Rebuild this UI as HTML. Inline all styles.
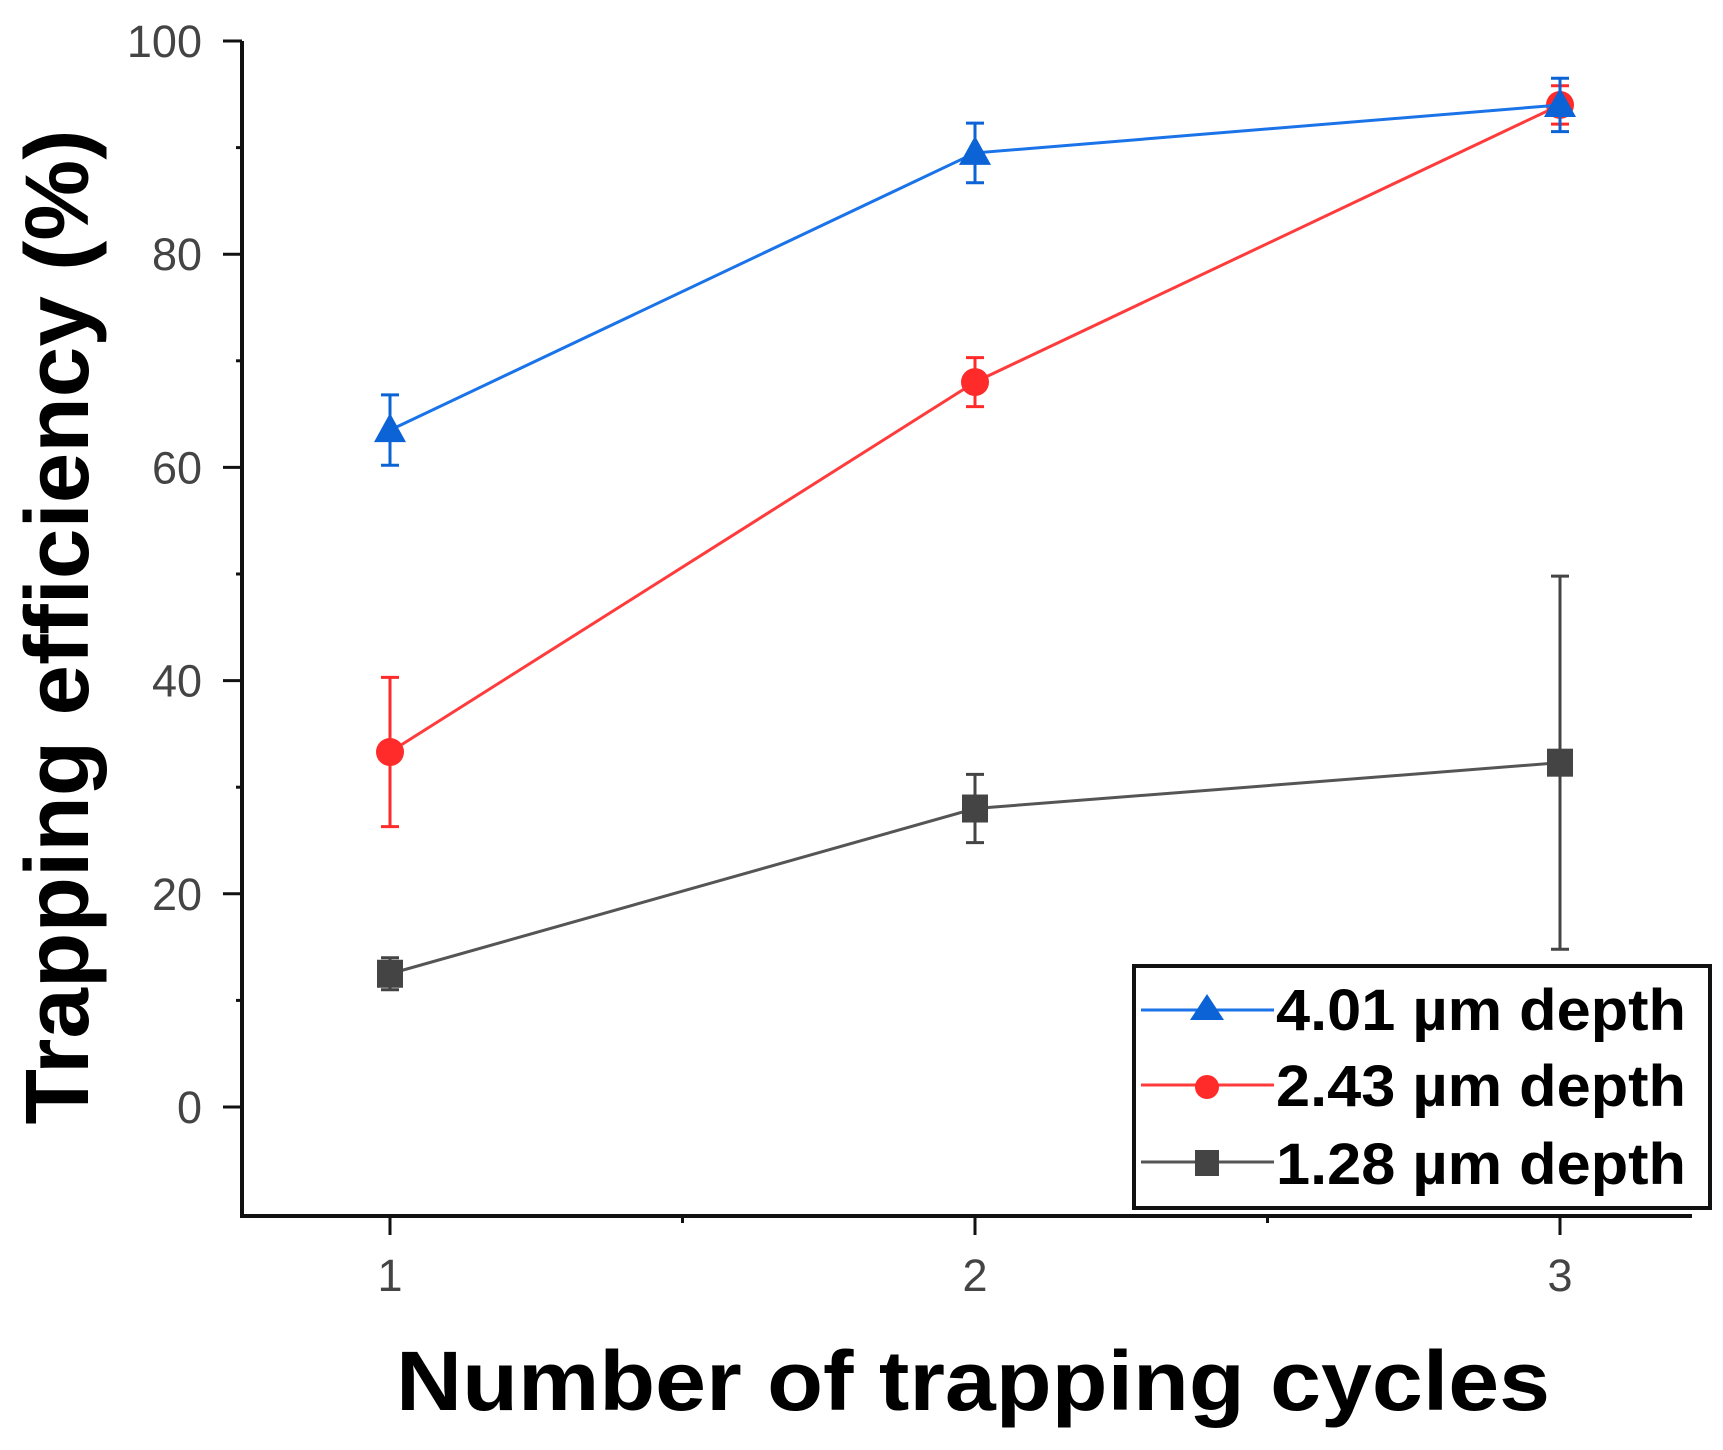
<!DOCTYPE html>
<html><head><meta charset="utf-8"><style>
html,body{margin:0;padding:0;background:#fff;}
svg{display:block;font-family:"Liberation Sans",Arial,sans-serif;}
</style></head><body>
<svg id="chart" width="1723" height="1450" viewBox="0 0 1723 1450" xmlns="http://www.w3.org/2000/svg">
<g id="axes"></g>
<g id="series"></g>
<text transform="translate(88,627) rotate(-90)" text-anchor="middle" font-size="90" font-weight="bold" textLength="995" lengthAdjust="spacingAndGlyphs">Trapping efficiency (%)</text>
<text x="973" y="1410" text-anchor="middle" font-size="84" font-weight="bold" textLength="1154" lengthAdjust="spacingAndGlyphs">Number of trapping cycles</text>
<g>
<rect x="1134" y="966" width="576" height="242" fill="#fff" stroke="#111" stroke-width="4"/>
<line x1="1141" y1="1010" x2="1274" y2="1010" stroke="#1a73e8" stroke-width="3"/>
<polygon points="1207,994 1224,1020 1190,1020" fill="#0b63d6"/>
<text x="1276" y="1030" font-size="58" font-weight="bold" textLength="410" lengthAdjust="spacingAndGlyphs">4.01 µm depth</text>
<line x1="1141" y1="1085" x2="1274" y2="1085" stroke="#ff3b3b" stroke-width="3"/>
<circle cx="1207" cy="1087" r="12" fill="#ff2a2a"/>
<text x="1276" y="1106" font-size="58" font-weight="bold" textLength="410" lengthAdjust="spacingAndGlyphs">2.43 µm depth</text>
<line x1="1141" y1="1162" x2="1274" y2="1162" stroke="#555" stroke-width="3"/>
<rect x="1195" y="1150" width="24" height="26" fill="#444"/>
<text x="1276" y="1184" font-size="58" font-weight="bold" textLength="410" lengthAdjust="spacingAndGlyphs">1.28 µm depth</text>
</g>
</svg>
<script>
const xCategories = [1, 2, 3];
const yTicks = [0, 20, 40, 60, 80, 100];
const blueValues = [63.5, 89.5, 94];
const blueErrors = [3.3, 2.8, 2.5];
const redValues = [33.3, 68, 94];
const redErrors = [7, 2.3, 1.8];
const grayValues = [12.5, 28, 32.3];
const grayErrors = [1.5, 3.2, 17.5];

const NS = "http://www.w3.org/2000/svg";
function X(v){ return 390 + (v - 1) * 585; }
function Y(v){ return 1107 - v * 10.66; }
function mk(tag, attrs, parent){
  const e = document.createElementNS(NS, tag);
  for (const k in attrs) e.setAttribute(k, attrs[k]);
  parent.appendChild(e);
  return e;
}
const axes = document.getElementById('axes');
const series = document.getElementById('series');
const yBottom = 1216, yTop = Y(100);
let a = mk('line', {x1:242, y1:yTop, x2:242, y2:yBottom, stroke:'#111', 'stroke-width':4}, axes);


a = mk('line', {x1:240, y1:yBottom, x2:1692, y2:yBottom, stroke:'#111', 'stroke-width':4}, axes);


yTicks.forEach(t => {
  const l = mk('line', {x1:223, y1:Y(t), x2:242, y2:Y(t), stroke:'#111', 'stroke-width':3}, axes);
  
  
  const m = mk('line', {x1:236, y1:Y(t+10), x2:242, y2:Y(t+10), stroke:'#111', 'stroke-width':3}, axes);
  
  
  const tx = mk('text', {x:202, y:Y(t)+16, 'text-anchor':'end', 'font-size':45, fill:'#444'}, axes);
  
  
  tx.textContent = t;
});
xCategories.forEach((c, i) => {
  const l = mk('line', {x1:X(c), y1:yBottom, x2:X(c), y2:yBottom+19, stroke:'#111', 'stroke-width':3}, axes);
  
  
  if (i < xCategories.length - 1) {
    const m = mk('line', {x1:X(c+0.5), y1:yBottom, x2:X(c+0.5), y2:yBottom+7, stroke:'#111', 'stroke-width':3}, axes);
    
    
  }
  const tx = mk('text', {x:X(c), y:1291, 'text-anchor':'middle', 'font-size':45, fill:'#444'}, axes);
  
  
  tx.textContent = c;
});
function drawSeries(name, vals, errs, lineColor, markColor, shape){
  const g = mk('g', {}, series);
  
  
  const pts = vals.map((v, i) => X(xCategories[i]) + ',' + Y(v)).join(' ');
  const pl = mk('polyline', {points:pts, fill:'none', stroke:lineColor, 'stroke-width':3}, g);
  
  
  vals.forEach((v, i) => {
    const x = X(xCategories[i]);
    const e = mk('path', {d:`M${x},${Y(v+errs[i])}V${Y(v-errs[i])}M${x-9},${Y(v+errs[i])}H${x+9}M${x-9},${Y(v-errs[i])}H${x+9}`, stroke:markColor, 'stroke-width':3, fill:'none'}, g);
    
    
    let m;
    const y = Y(v);
    if (shape === 'tri') m = mk('polygon', {points:`${x},${y-17} ${x+16},${y+12} ${x-16},${y+12}`, fill:markColor}, g);
    else if (shape === 'circ') m = mk('circle', {cx:x, cy:y, r:14, fill:markColor}, g);
    else m = mk('rect', {x:x-13, y:y-14, width:26, height:28, fill:markColor}, g);
    
    
  });
}
drawSeries('gray-1.28', grayValues, grayErrors, '#555', '#444', 'sq');
drawSeries('red-2.43', redValues, redErrors, '#ff3b3b', '#ff2a2a', 'circ');
drawSeries('blue-4.01', blueValues, blueErrors, '#1a73e8', '#0b63d6', 'tri');
</script>
</body></html>
